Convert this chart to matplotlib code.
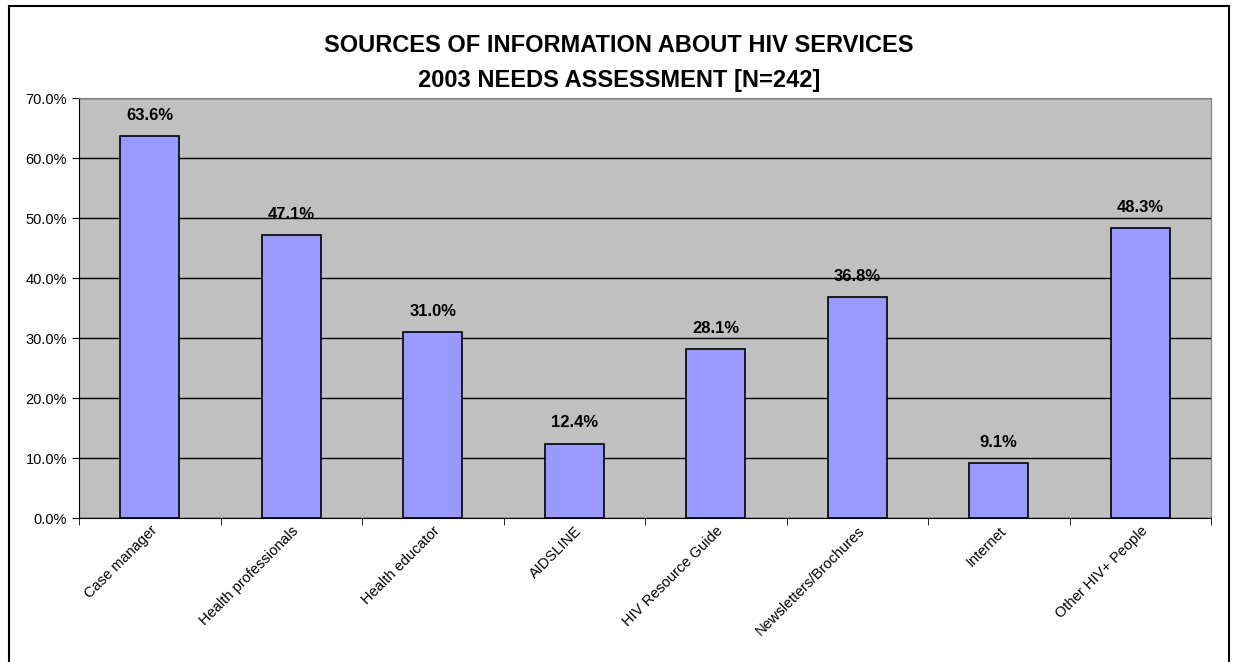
import numpy as np
import matplotlib.pyplot as plt
from matplotlib.patches import Rectangle

categories = ['Case manager', 'Health professionals', 'Health educator', 'AIDSLINE',
              'HIV Resource Guide', 'Newsletters/Brochures', 'Internet', 'Other HIV+ People']
values = [63.6, 47.1, 31.0, 12.4, 28.1, 36.8, 9.1, 48.3]
yticks = [0, 10, 20, 30, 40, 50, 60, 70]

plt.rcParams['font.family'] = ['Liberation Sans Narrow', 'Liberation Sans', 'DejaVu Sans']

fig = plt.figure(figsize=(12.38, 6.62), dpi=100)
fig.patches.append(Rectangle((9/1238, -0.01), 1220/1238, 1 - 6/662 + 0.01,
                             transform=fig.transFigure, fill=False, lw=1.5, ec='black'))
ax = fig.add_axes([79/1238, 1 - 518/662, (1211 - 79)/1238, (518 - 98)/662])
ax.set_facecolor('#c0c0c0')

x = np.arange(len(categories))
ax.bar(x, values, width=0.42, color='#9999ff', edgecolor='black', linewidth=1.2, zorder=3)
for xi, v in zip(x, values):
    ax.text(xi, v + 2.2, f'{v:.1f}%', ha='center', va='bottom', fontsize=12, fontweight='bold')

ax.set_xlim(-0.5, len(categories) - 0.5)
ax.set_ylim(0, 70)
ax.set_yticks(yticks)
ax.set_yticklabels([f'{t:.1f}%' for t in yticks], fontsize=10.5)
ax.yaxis.grid(True, color='black', linewidth=1, zorder=0)
ax.set_axisbelow(True)

ax.set_xticks(x)
ax.set_xticklabels(categories, rotation=45, ha='right', rotation_mode='anchor', fontsize=10.5)
ax.tick_params(axis='x', length=0, pad=4)
ax.set_xticks(np.arange(len(categories) + 1) - 0.5, minor=True)
ax.tick_params(axis='x', which='minor', length=5, color='black')
ax.tick_params(axis='y', length=5)

for s in ['top', 'right']:
    ax.spines[s].set_color('#808080')
for s in ['left', 'bottom']:
    ax.spines[s].set_color('black')

fig.text(0.5, 1 - 45/662, 'SOURCES OF INFORMATION ABOUT HIV SERVICES', ha='center', va='center',
         fontsize=17, fontweight='bold')
fig.text(0.5, 1 - 80/662, '2003 NEEDS ASSESSMENT [N=242]', ha='center', va='center',
         fontsize=17, fontweight='bold')

fig.savefig('out.png', dpi=100)
